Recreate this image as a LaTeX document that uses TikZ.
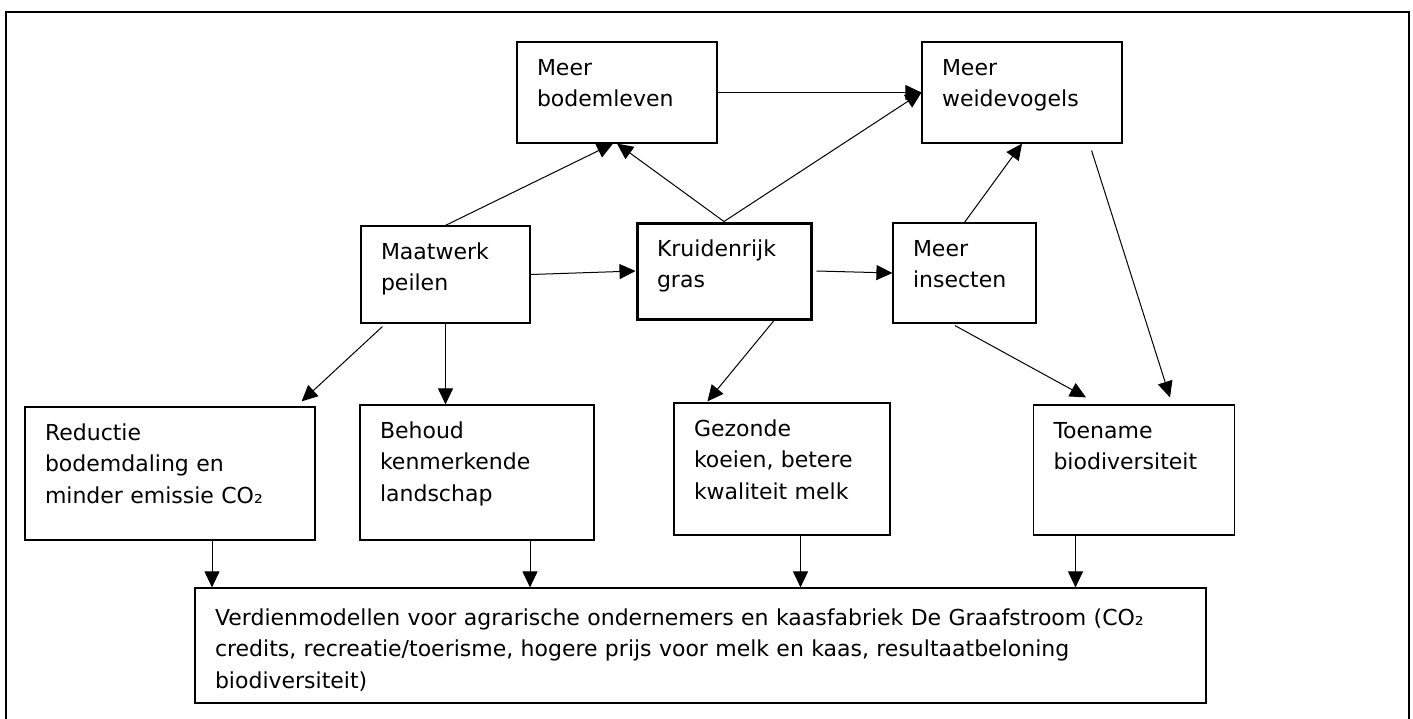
\documentclass[tikz,border=0pt]{standalone}
\usepackage{fontspec}
\setmainfont{DejaVu Sans}
\usetikzlibrary{arrows.meta}
\tikzstyle{block} = [draw, rectangle, line width=0.6pt, align=left, inner xsep=10pt, inner ysep=8pt, text height=8.5pt, font=\fontsize{11}{15.8}\selectfont]

\begin{document}
\begin{tikzpicture}[x=0.5pt, y=-0.5pt, line width=0.5pt, >={Triangle[length=8pt,width=7.5pt]}]
        \useasboundingbox (0,0) rectangle (1413,718);
        \draw[line width=1pt] (6,12) rectangle (1409,730);

        % bovenste rij
        \node [block, text width=80pt, text depth=26pt] (mb) at (617,92.5) {Meer\\bodemleven};
        \node [block, text width=80pt, text depth=26pt] (mw) at (1022,92.5) {Meer\\weidevogels};

        % middelste rij
        \node [block, text width=64.5pt, text depth=24pt] (mp) at (445.5,274.5) {Maatwerk\\peilen};
        \node [block, line width=1.5pt, text width=67pt, text depth=23.5pt] (kg) at (724,271) {Kruidenrijk\\gras};
        \node [block, text width=51.5pt, text depth=25.5pt] (mi) at (964.5,273) {Meer\\insecten};

        % onderste rij
        \node [block, text width=125pt, text depth=42pt] (rb) at (170,473.5) {Reductie\\bodemdaling en\\minder emissie CO₂};
        \node [block, text width=97pt, text depth=43pt] (bk) at (477,472.5) {Behoud\\kenmerkende\\landschap};
        \node [block, text width=88pt, text depth=41.5pt] (gk) at (782,469) {Gezonde\\koeien, betere\\kwaliteit melk};
        \node [block, text width=80.5pt, text depth=40.5pt] (tb) at (1134,470) {Toename\\biodiversiteit};

        \node [block, text width=485.5pt, text height=10.5pt, text depth=31pt] (vm) at (700.5,645.5) {Verdienmodellen voor agrarische ondernemers en kaasfabriek De Graafstroom (CO₂\\credits, recreatie/toerisme, hogere prijs voor melk en kaas, resultaatbeloning\\biodiversiteit)};

        \draw[->] (mb.east) -- (mw.west);
        \draw[->] (kg.north) -- (mb.south);
        \draw[->] (kg.north) -- (mw.west);
        \draw[->] (mp.north) -- ([xshift=-2pt]mb.south);
        \draw[->] (mp.east) -- (kg.west);
        \draw[->] ([xshift=2pt]kg.east) -- (mi.west);
        \draw[->] (mi.north) -- (mw.south);
        \draw[->] ([shift={(-15.5pt,-3.5pt)}]mw.south east) -- ([shift={(18pt,3.5pt)}]tb.north);
        \draw[->] ([shift={(-4.75pt,-1pt)}]mi.south) -- ([shift={(-24pt,3.5pt)}]tb.north);
        \draw[->] ([xshift=25pt]kg.south) -- ([shift={(17pt,0.5pt)}]gk.north west);
        \draw[->] ([shift={(11pt,-1.5pt)}]mp.south west) -- ([shift={(-7pt,2.5pt)}]rb.north east);
        \draw[->] (mp.south) -- (mp.south |- bk.north);

        \foreach \n/\dx in {rb/21pt, bk/26.5pt, gk/9.25pt, tb/-29.25pt}
            \draw[->] ([xshift=\dx]\n.south) -- ([xshift=\dx]\n.south |- vm.north);
    \end{tikzpicture}
\end{document}
